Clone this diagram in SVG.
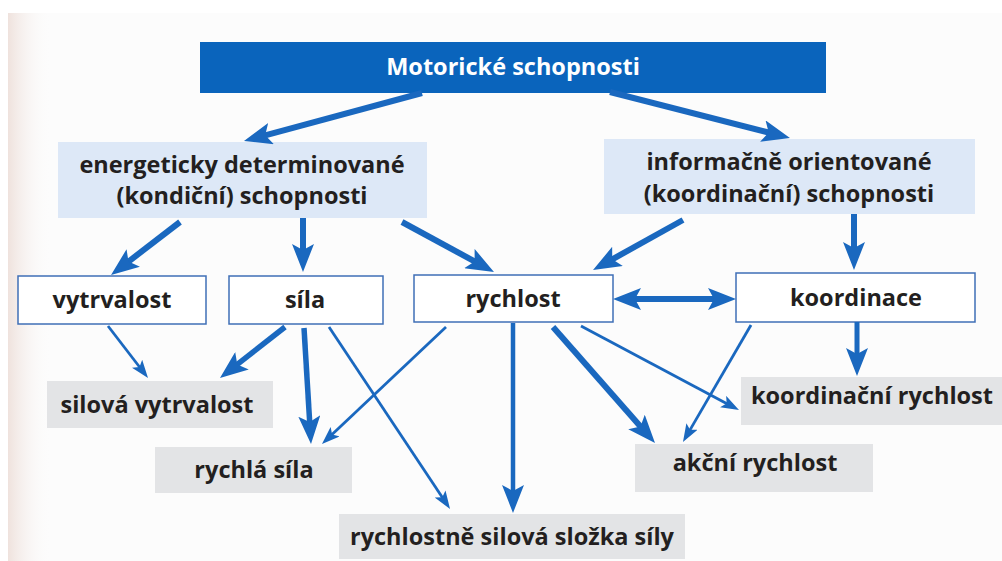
<svg xmlns="http://www.w3.org/2000/svg" width="1002" height="561" viewBox="0 0 1002 561">
<style>
.t{font-family:"Open Sans","Liberation Sans",sans-serif;font-weight:700;font-size:23.5px;fill:#231f20;text-anchor:middle}
.tw{fill:#ffffff}
.top{fill:#0a64bc}
.lb{fill:#dde8f7}
.wb{fill:#ffffff;stroke:#3f6fb6;stroke-width:1.5}
.gb{fill:#e3e4e6}
.k{stroke:#1a68bf;fill:none;stroke-linecap:butt}
.th{stroke-width:6;marker-end:url(#ab)}
.tn{stroke-width:2.8;marker-end:url(#as)}
</style>
<defs>
<linearGradient id="edge" x1="0" y1="0" x2="1" y2="0">
<stop offset="0" stop-color="#efe2dd"/>
<stop offset="1" stop-color="#fbfbfb" stop-opacity="0"/>
</linearGradient>
<marker id="ab" viewBox="0 0 28 22" refX="8" refY="11" markerWidth="28" markerHeight="22" markerUnits="userSpaceOnUse" orient="auto-start-reverse">
<path d="M0,0 L28,11 L0,22 L6,11 z" fill="#1a68bf"/>
</marker>
<marker id="as" viewBox="0 0 18 13" refX="6" refY="6.5" markerWidth="18" markerHeight="13" markerUnits="userSpaceOnUse" orient="auto">
<path d="M0,0 L18,6.5 L0,13 L4,6.5 z" fill="#1a68bf"/>
</marker>
</defs>
<rect x="0" y="0" width="1002" height="561" fill="#fcfcfc"/>
<rect x="0" y="0" width="1002" height="13" fill="#ffffff"/>
<rect x="0" y="13" width="8" height="548" fill="#ffffff"/>
<rect x="8" y="13" width="42" height="548" fill="url(#edge)"/>

<g id="n-motoricke">
<rect class="top" x="200" y="42" width="626" height="51"/>
<text class="t tw" x="513" y="75">Motorické schopnosti</text>
</g>
<g id="n-energeticky">
<rect class="lb" x="58" y="142" width="369" height="76"/>
<text class="t" x="242" y="173">energeticky determinované</text>
<text class="t" x="242" y="204">(kondiční) schopnosti</text>
</g>
<g id="n-informacne">
<rect class="lb" x="604" y="139" width="371" height="75"/>
<text class="t" x="789" y="170">informačně orientované</text>
<text class="t" x="789" y="202">(koordinační) schopnosti</text>
</g>
<g id="n-vytrvalost">
<rect class="wb" x="18" y="276" width="188" height="48"/>
<text class="t" x="112" y="308">vytrvalost</text>
</g>
<g id="n-sila">
<rect class="wb" x="229" y="276" width="154" height="48"/>
<text class="t" x="305" y="308">síla</text>
</g>
<g id="n-rychlost">
<rect class="wb" x="414" y="275" width="199" height="47"/>
<text class="t" x="513" y="307">rychlost</text>
</g>
<g id="n-koordinace">
<rect class="wb" x="736" y="273" width="239" height="49"/>
<text class="t" x="856" y="306">koordinace</text>
</g>
<g id="n-silova-vytrvalost">
<rect class="gb" x="47" y="381" width="226" height="47"/>
<text class="t" x="157" y="413">silová vytrvalost</text>
</g>
<g id="n-rychla-sila">
<rect class="gb" x="155" y="447" width="197" height="46"/>
<text class="t" x="254" y="478">rychlá síla</text>
</g>
<g id="n-rychlostne-silova">
<rect class="gb" x="339" y="514" width="346" height="45"/>
<text class="t" x="512" y="545">rychlostně silová složka síly</text>
</g>
<g id="n-koordinacni-rychlost">
<rect class="gb" x="741" y="377" width="261" height="48"/>
<text class="t" x="872" y="404">koordinační rychlost</text>
</g>
<g id="n-akcni-rychlost">
<rect class="gb" x="635" y="444" width="238" height="48"/>
<text class="t" x="755" y="471">akční rychlost</text>
</g>

<g id="connectors">
<line class="k th" x1="422" y1="93" x2="263.3" y2="135.8"/>
<line class="k th" x1="610" y1="92" x2="770.6" y2="133"/>
<line class="k th" x1="180" y1="222" x2="126.9" y2="262.8"/>
<line class="k th" x1="303" y1="218" x2="303" y2="252"/>
<line class="k th" x1="402" y1="222" x2="476.4" y2="262.4"/>
<line class="k th" x1="683" y1="220" x2="610.5" y2="260.3"/>
<line class="k th" x1="854" y1="214" x2="854" y2="250"/>
<line class="k th" x1="633" y1="299" x2="716" y2="299" style="marker-start:url(#ab)"/>
<line class="k tn" x1="108" y1="326" x2="140.7" y2="368.5"/>
<line class="k th" style="stroke-width:5.5" x1="285" y1="327" x2="235.7" y2="365.7"/>
<line class="k th" style="stroke-width:5.5" x1="304" y1="328" x2="309.8" y2="424"/>
<line class="k tn" x1="329" y1="327" x2="443.4" y2="499"/>
<line class="k tn" x1="446" y1="327" x2="330.7" y2="435.8"/>
<line class="k th" style="stroke-width:4.5" x1="513" y1="323" x2="513" y2="493"/>
<line class="k th" x1="553" y1="327" x2="641.8" y2="428"/>
<line class="k tn" x1="581" y1="326" x2="728.4" y2="404.4"/>
<line class="k tn" x1="751" y1="325" x2="689" y2="431.6"/>
<line class="k th" style="stroke-width:5" x1="857" y1="322" x2="857" y2="356"/>
</g>
</svg>
